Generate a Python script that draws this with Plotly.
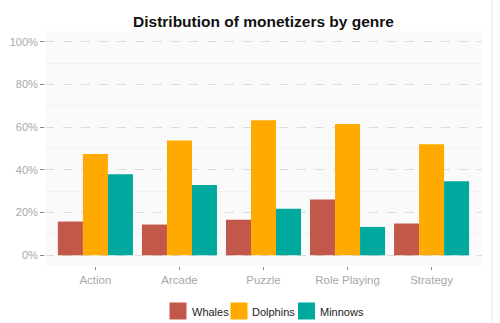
import plotly.graph_objects as go

# Share of monetizers (%) per game genre
genres = ["Action", "Arcade", "Puzzle", "Role Playing", "Strategy"]
whales = [15.8, 14.4, 16.6, 26.1, 14.9]
dolphins = [47.4, 53.8, 63.2, 61.5, 52.0]
minnows = [38.0, 32.9, 21.8, 13.3, 34.7]
y_ticks = [0, 20, 40, 60, 80, 100]
y_tick_labels = ["0%", "20%", "40%", "60%", "80%", "100%"]
y_minor_ticks = [10, 30, 50, 70, 90]

series_names = ["Whales", "Dolphins", "Minnows"]
series_values = [whales, dolphins, minnows]
series_colors = ["#C1584A", "#FFAA00", "#00A99D"]

W, H = 500, 323
M_L, M_R, M_T, M_B = 45, 18, 31, 57
PW, PH = W - M_L - M_R, H - M_T - M_B


def px_x(x):
    return (x - M_L) / PW


def px_y(y):
    return (H - M_B - y) / PH


fig = go.Figure()
for name, vals, col in zip(series_names, series_values, series_colors):
    fig.add_trace(go.Bar(
        x=genres, y=vals, name=name, marker=dict(color=col, line=dict(width=0)),
        showlegend=False, hovertemplate="%{x}: %{y:.1f}%<extra>" + name + "</extra>",
    ))

# Legend drawn as square keys with labels under the plot
legend_keys = [(169.5, 189.5), (230.5, 250), (298, 317.5)]
shapes = []
annotations = []
for (kx, tx), name, col in zip(legend_keys, series_names, series_colors):
    shapes.append(dict(type="rect", xref="paper", yref="paper",
                       x0=px_x(kx), x1=px_x(kx + 17), y0=px_y(319.5), y1=px_y(302.5),
                       fillcolor=col, line=dict(width=0), layer="above"))
    annotations.append(dict(text=name, xref="paper", yref="paper", x=px_x(tx), y=px_y(311.5),
                            xanchor="left", yanchor="middle", showarrow=False,
                            font=dict(family="Liberation Sans, Arial", size=11, color="#222222")))

# panel background
shapes.insert(0, dict(type="rect", xref="paper", yref="paper", x0=0, x1=1, y0=0, y1=1,
                      fillcolor="#FAFAFA", line=dict(width=0), layer="below"))
# thin frame line on the right edge
shapes.append(dict(type="line", xref="paper", yref="paper",
                   x0=px_x(492), x1=px_x(492), y0=px_y(H), y1=px_y(0),
                   line=dict(color="#E6E6E6", width=1)))

fig.update_layout(
    width=W, height=H,
    margin=dict(l=M_L, r=M_R, t=M_T, b=M_B, autoexpand=False),
    paper_bgcolor="white", plot_bgcolor="rgba(0,0,0,0)",
    barmode="group", bargap=0.107, bargroupgap=0,
    title=dict(text="<b>Distribution of monetizers by genre</b>", x=0.5, xref="paper",
               xanchor="center", y=1 - 22 / H, yref="container", yanchor="middle",
               font=dict(family="Liberation Sans, Arial", size=15.5, color="#111111")),
    font=dict(family="Liberation Sans, Arial"),
    xaxis=dict(range=[-0.6, 4.6], showgrid=False, zeroline=False, showline=False,
               automargin=False,
               ticks="outside", ticklen=3, tickwidth=1, tickcolor="#888888",
               tickfont=dict(size=11.5, color="#A8A8A8")),
    yaxis=dict(range=[-5, 105], tickmode="array", tickvals=y_ticks, ticktext=y_tick_labels,
               automargin=False,
               showgrid=True, gridcolor="#DCDCDC", griddash="dash", gridwidth=1,
               minor=dict(tickvals=y_minor_ticks, showgrid=True, gridcolor="#F2F2F2",
                          griddash="solid", gridwidth=1, ticks=""),
               zeroline=False, showline=False,
               ticks="outside", ticklen=4, tickwidth=1.3, tickcolor="#888888",
               tickfont=dict(size=11, color="#A8A8A8")),
    shapes=shapes, annotations=annotations,
)

fig.write_html("out.html")
